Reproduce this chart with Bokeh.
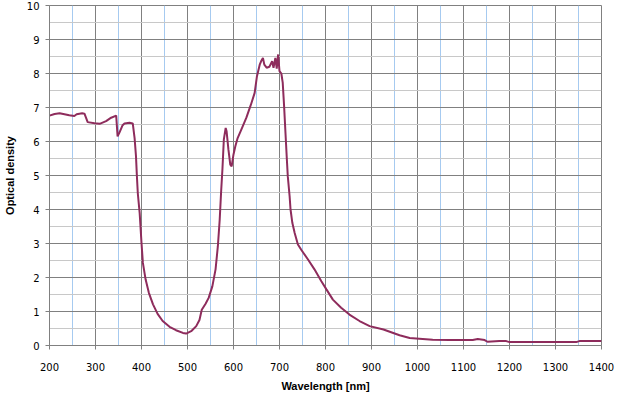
from bokeh.plotting import figure
from bokeh.models import Range1d, FixedTicker
from bokeh.embed import file_html
from bokeh.resources import INLINE

wavelength = [200, 211, 222, 243, 254, 259, 271, 276, 283, 298, 309, 323, 334, 345,
              348, 352, 359, 363, 374, 381, 385, 388, 390, 392, 396, 400, 403, 409,
              416, 425, 435, 446, 461, 475, 490, 497, 508, 519, 526, 531, 539, 546,
              554, 561, 566, 570, 573, 576, 579, 583, 585, 589, 593, 596, 600, 604,
              609, 617, 628, 638, 646, 651, 657, 660, 664, 667, 672, 678, 684, 687,
              691, 694, 697, 700, 704, 707, 710, 713, 716, 718, 722, 724, 728, 733,
              740, 748, 762, 776, 791, 802, 816, 834, 852, 874, 896, 926, 961, 983,
              1004, 1033, 1070, 1120, 1131, 1146, 1152, 1178, 1193, 1200, 1345, 1352,
              1400]
optical_density = [6.76, 6.81, 6.83, 6.77, 6.75, 6.80, 6.83, 6.82, 6.57, 6.54, 6.52, 6.60,
                   6.70, 6.76, 6.15, 6.26, 6.48, 6.53, 6.55, 6.53, 6.10, 5.57, 4.98, 4.47,
                   3.90, 3.02, 2.43, 1.94, 1.55, 1.21, 0.93, 0.72, 0.55, 0.45, 0.37, 0.35,
                   0.42, 0.57, 0.75, 1.05, 1.22, 1.40, 1.74, 2.24, 2.92, 3.70, 4.50, 5.20,
                   6.06, 6.40, 6.30, 5.76, 5.32, 5.27, 5.62, 5.86, 6.10, 6.35, 6.70, 7.09,
                   7.43, 7.92, 8.26, 8.36, 8.46, 8.26, 8.17, 8.20, 8.36, 8.17, 8.46, 8.14,
                   8.56, 8.07, 8.00, 7.73, 7.04, 6.25, 5.47, 4.98, 4.39, 4.00, 3.60, 3.31,
                   2.97, 2.80, 2.53, 2.24, 1.89, 1.65, 1.35, 1.11, 0.91, 0.72, 0.57, 0.47,
                   0.30, 0.22, 0.20, 0.17, 0.16, 0.16, 0.19, 0.16, 0.11, 0.13, 0.13, 0.10,
                   0.10, 0.13, 0.13]

x_ticks = [200, 300, 400, 500, 600, 700, 800, 900, 1000, 1100, 1200, 1300, 1400]
x_minor = [250, 350, 450, 550, 650, 750, 850, 950, 1050, 1150, 1250, 1350]
y_ticks = [0, 1, 2, 3, 4, 5, 6, 7, 8, 9, 10]
y_minor = [0.5, 1.5, 2.5, 3.5, 4.5, 5.5, 6.5, 7.5, 8.5, 9.5]

x_title = "Wavelength [nm]"
y_title = "Optical density"

p = figure(frame_width=552, frame_height=340, output_backend="svg", toolbar_location=None,
           x_range=Range1d(200, 1400), y_range=Range1d(0, 10),
           min_border_left=38, min_border_right=20, min_border_top=5, min_border_bottom=10)
p.background_fill_color = "white"
p.outline_line_color = "#808080"

xt = FixedTicker(ticks=x_ticks, minor_ticks=x_minor)
yt = FixedTicker(ticks=y_ticks, minor_ticks=y_minor)
p.xaxis.ticker = xt
p.yaxis.ticker = yt
p.xgrid.ticker = xt
p.ygrid.ticker = yt

p.xgrid.grid_line_color = "#808080"
p.xgrid.minor_grid_line_color = "#a6caf0"
p.ygrid.grid_line_color = "#808080"
p.ygrid.minor_grid_line_color = "#c8c8c8"

for ax in (p.xaxis, p.yaxis):
    ax.axis_line_color = "#808080"
    ax.major_tick_line_color = "#808080"
    ax.minor_tick_line_color = None
    ax.major_tick_in = 0
    ax.major_tick_out = 4
    ax.major_label_text_font = "DejaVu Sans"
    ax.major_label_text_font_size = "10px"
    ax.major_label_text_color = "black"
    ax.axis_label_text_font = "Liberation Sans"
    ax.axis_label_text_font_size = "11px"
    ax.axis_label_text_font_style = "bold"
    ax.axis_label_text_color = "black"

p.xaxis.axis_label = x_title
p.yaxis.axis_label = y_title
p.xaxis.major_label_standoff = 13
p.yaxis.major_label_standoff = 6
p.xaxis.axis_label_standoff = 6
p.yaxis.axis_label_standoff = 8

p.line(wavelength, optical_density, line_color="#8e2c5c", line_width=2)

open("out.html", "w").write(file_html(p, INLINE))
